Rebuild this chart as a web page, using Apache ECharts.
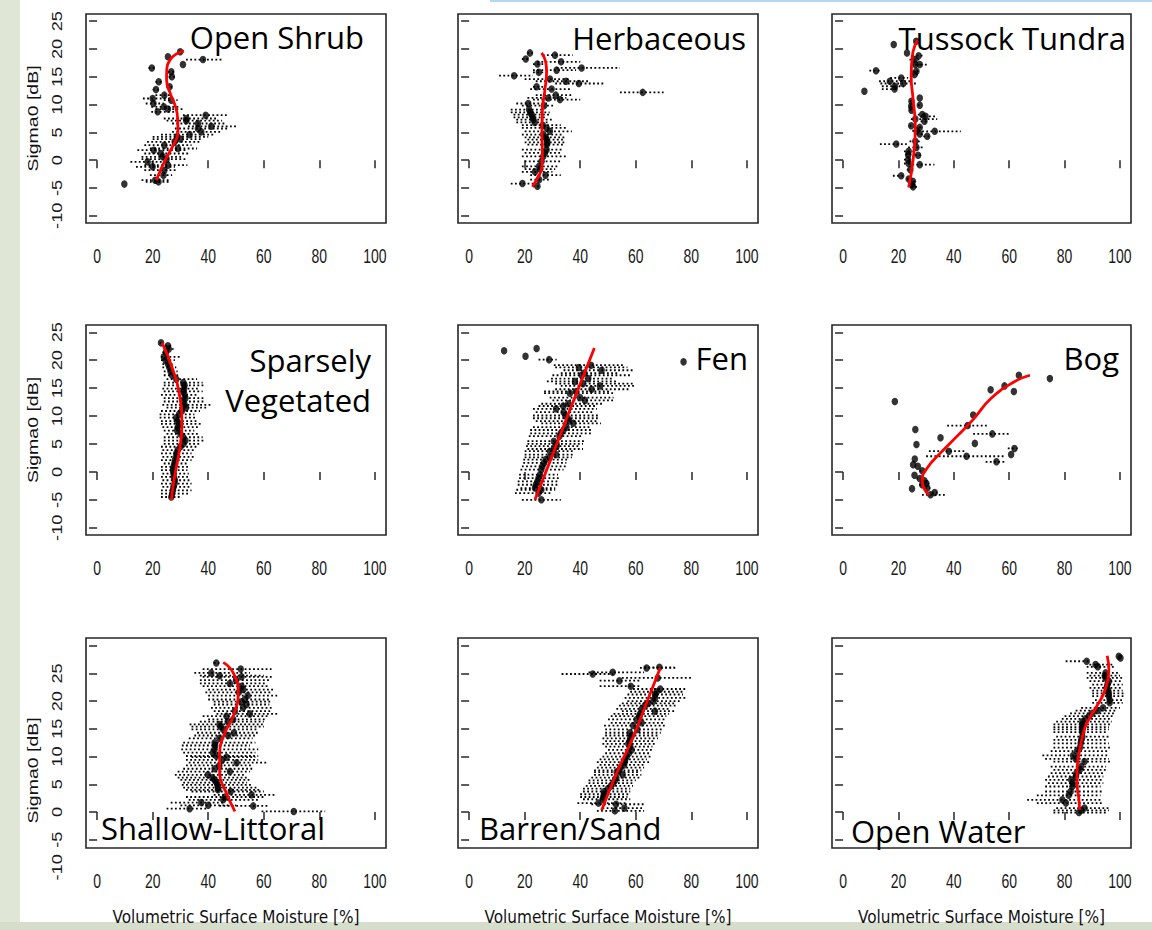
<!DOCTYPE html>
<html><head><meta charset="utf-8">
<script src="https://cdn.jsdelivr.net/npm/echarts@6/dist/echarts.min.js"></script>
<style>html,body{margin:0;padding:0;background:#fff}#c{width:1152px;height:930px}</style>
</head><body><div id="c"></div>
<script>
// ---------- tick / label values ----------
const xTicks = [0, 20, 40, 60, 80, 100];
const yTicksUpper = [-10, -5, 0, 5, 10, 15, 20, 25];
const yTicksLower = [-5, 0, 5, 10, 15, 20, 25, 30];
const yLabelsUpper = [-10, -5, 0, 5, 10, 15, 20, 25];
const yLabelsLower = [-10, -5, 0, 5, 10, 15, 20, 25];

const panelNames = ['Open Shrub', 'Herbaceous', 'Tussock Tundra', 'Sparsely\nVegetated', 'Fen', 'Bog',
  'Shallow-Littoral', 'Barren/Sand', 'Open Water'];
const xTitle = 'Volumetric Surface Moisture [%]';
const yTitle = 'Sigma0 [dB]';

// ---------- data: [moisture, sigma0, errLow, errHigh] ----------
const shrubPts = [
[29.9,19.5,29.9,29.9],[25.5,18.6,25.5,25.5],[38.1,18.1,32,45.4],[30.9,17.2,30.9,30.9],[19.7,16.6,18.5,21],
[26.7,15.9,25.5,28],[26.9,15.0,25.8,28],[22.2,14.1,21,23.5],[26.1,13.2,25,27],[21.2,12.7,20,22.5],
[24.2,11.7,21,27],[20.0,11.1,16.5,26],[26.7,10.8,24,29],[20.3,10.2,17.5,24],[24.0,9.6,19.5,30],
[25.5,9.2,21,31.5],[21.8,8.7,19.5,28],[39.1,8.1,30.9,47.2],[32.1,7.5,24,43],[32.1,7.1,25,45],
[36.3,6.6,27,46],[41.1,6.1,32.7,50.2],[36.3,5.7,28,47],[37.5,5.1,27,45],[33.3,4.6,23,42],
[28.8,4.2,20,40],[30.0,3.8,20,38],[27.9,3.3,18,37],[24.2,2.7,17,34],[29.1,2.1,19,36],
[20.4,1.8,14.5,32.6],[23.0,1.2,17,33],[23.6,0.6,16,31],[25.0,0.2,16,32],[18.2,-0.3,12,26],
[25.5,-0.9,17,32.5],[20.0,-1.2,14,28],[24.2,-1.8,17,29],[23.9,-2.7,19,27],[20.9,-3.6,16,26],
[22.1,-3.9,17.5,26],[9.8,-4.3,9.8,9.8]];
const shrubFit = [[21.3,-3.6],[24.5,0],[27.5,2.8],[29.1,5],[29.0,7.5],[28.3,9.5],[26.5,11.8],[25,14.5],[25.1,16.5],[26.5,18.2],[28.5,19.1],[31.3,19.6]];

const herbPts = [
[21.9,19.3,21,23],[30.9,18.9,26.5,37.3],[20.4,18.2,19,22],[33.1,17.7,24.5,40],[24.6,17.3,23,27],
[40.5,16.6,31.5,54.3],[31.5,16.2,23,38.5],[25.1,15.8,23,28],[16.2,15.2,10.8,23],[29.1,14.6,20,36],
[34.9,14.2,24,43],[39.5,13.8,31,48.5],[24.3,13.2,23,27],[29.7,12.8,22,37],[62.5,12.2,54.3,70],
[31.2,11.7,24,37],[28.5,11.2,21,35],[32.7,10.9,23,40],[21.3,10.2,17,28],[27.0,9.8,19,31],
[21.6,9.1,15,27],[22.0,8.6,15,29],[22.5,8.2,16,29],[22.8,7.7,16,28],[23.1,7.3,17,30],
[23.6,6.8,17,29],[26.5,6.3,19,33],[27.9,5.8,19,35],[29.1,5.2,20,37],[26.7,4.6,19,34],
[27.6,4.1,20,35],[27.9,3.7,21,34],[28.2,3.2,20,35],[27.9,2.8,21,34],[27.9,1.9,19,34],
[27.3,1.3,20,33],[26.7,0.7,19,35],[26.1,-0.2,20,33],[25.2,-1.1,19,32],[25.6,-1.6,20,31],
[23.7,-2.1,19,30],[27.5,-2.7,22,33],[25.2,-3.5,22,29],[19.2,-4.2,15,23],[24.6,-4.7,23,26]];
const herbFit = [[22.8,-4.8],[24.8,-3],[26.1,-1.5],[26.4,0.7],[26.2,4.9],[26.4,9.1],[27.3,12.7],[27.9,16],[27.5,17.8],[26.1,19.3]];

const tussPts = [
[18.3,20.8,18.3,18.3],[26.4,21.4,26.4,26.4],[23.1,19.3,23.1,23.1],[27.3,18.8,25,29.5],[25.9,18.1,24,27.5],
[26.1,17.2,24.5,28],[27.7,17.2,25,30.5],[26.5,16.0,25,28],[25.8,15.4,25,27],[11.9,16.1,9.5,13.5],
[21.0,14.8,17,23.5],[16.9,14.2,13,25],[21.7,13.8,13.5,26.5],[18.7,13.3,14,22],[18.6,12.8,14,20],
[7.7,12.4,7.7,7.7],[27.7,11.2,27.7,27.7],[24.7,10.6,24,25.5],[27.7,9.9,27,28.5],[24.6,9.7,24,25],
[24.7,9.0,24,25.5],[28.6,8.2,27,30],[29.8,7.9,28,33.5],[26.1,7.4,24.5,34],[29.4,7.0,28,31],
[24.6,6.2,24,25.5],[27.7,5.9,26,29],[26.7,5.3,25,28],[33.1,5.2,25.5,42.5],[27.7,4.7,26.5,29],
[30.4,4.3,29,31.5],[26.1,3.4,24,28],[19.2,2.9,13.3,23],[26.5,2.3,23.5,29],[23.7,1.6,22,25.5],
[23.5,1.0,22.5,25],[27.1,0.9,26,28],[23.5,0.1,22,25],[23.7,-0.6,22,25],[27.7,-0.8,25,33],
[24.3,-1.7,23,26],[21.0,-2.8,18,22.5],[23.7,-3.4,23,25],[25.2,-3.8,24,27],[24.9,-4.4,24,26],[25.3,-4.8,24.5,27]];
const tussFit = [[23.7,-4.9],[25.3,0.1],[26.1,6.1],[25.3,10.9],[24.6,15.1],[25,18.7],[26.1,20.8],[27.1,21.5]];

const sparsePts = [
[23.0,23.1,22.5,24],[25.5,22.6,24.5,27],[25.8,22.0,24,27.5],[24.8,21.4,23.5,26],[24.0,20.6,23,30],
[24.6,20.0,23,28],[25.5,19.3,23.5,28],[26.0,18.7,23.5,28.5],[26.4,18.0,24,29],[27.0,17.3,24,30],
[28.5,16.6,25,36],[31.0,16.0,24,38],[31.5,15.5,24,38.5],[31.3,14.9,23.5,37],[31.0,14.4,24,38],
[31.5,13.8,23,36],[31.8,13.2,24,38.5],[31.0,12.6,24,39],[31.5,12.0,23.5,41],[32.0,11.5,25,40],
[30.5,10.9,23,37],[29.5,10.3,22.5,35],[28.5,9.7,22.5,36],[28.8,9.1,23,36.5],[29.5,8.6,23,38],
[29.0,8.0,23.5,37],[28.8,7.4,24,35],[30.0,6.8,25,37],[31.0,6.2,24,38],[31.8,5.6,24,38.5],
[31.0,5.0,24,37],[30.0,4.5,23,36],[29.0,3.9,23.5,35],[28.5,3.3,23,34],[28.5,2.7,23.5,35],
[28.0,2.1,23,34],[27.8,1.5,24,33],[27.5,0.9,23,33],[27.3,0.3,23,32.5],[27.5,-0.3,23.5,33],
[27.6,-0.9,23,33],[28.0,-1.5,23.5,33.5],[27.9,-2.1,23,34],[27.5,-2.7,23.5,34],[27.3,-3.3,23,34],
[27.0,-3.9,23,33],[26.7,-4.5,23,30]];
const sparseFit = [[23.4,23.1],[26.7,19.1],[29.7,13.7],[30.5,8.3],[29.7,4.1],[27.9,-0.8],[26.7,-5]];

const fenPts = [
[12.6,21.7,12.6,12.6],[24.3,22.1,24.3,24.3],[20.3,20.7,20.3,20.3],[28.8,20.1,25,31.5],[77.2,19.7,77.2,77.2],
[43.9,19.1,30.5,55.5],[39.5,18.7,31,57],[47.7,18.2,34,59],[41.5,17.7,33,54],[40.5,17.3,30,58],
[42.9,16.7,29.5,52],[38.1,16.2,28,53],[41.0,15.8,31,59],[47.1,15.4,33,59.5],[44.1,14.8,31,58],
[38.5,14.4,27,51],[36.3,14.1,27,52],[39.9,13.3,29,52],[41.7,12.8,30,52],[35.7,12.2,26,48],
[33.9,11.8,25,46],[31.3,11.3,23,46],[34.0,10.7,24,45],[34.7,10.1,23,47],[35.5,9.6,23,47],
[36.0,9.1,24,46],[37.5,8.7,26,47.5],[35.1,8.0,23,44],[34.0,7.5,22,44],[33.0,6.9,22,44],
[32.5,6.4,21.5,41],[30.5,5.5,21,42],[31.5,5.0,21,41],[31.5,4.6,20.5,40],[30.5,4.1,21,41],
[29.1,3.7,20,38],[31.3,3.1,20,38],[29.0,2.6,20,37],[27.6,2.2,19.5,36],[27.0,1.6,19.5,35],
[26.4,1.0,19,35],[26.0,0.4,18.5,34],[25.5,-0.5,18,32],[25.0,-1.1,18,33],[24.6,-1.7,17.5,32],
[24.0,-2.3,17.5,32],[23.7,-2.9,18.5,31],[26.0,-3.2,17,31],[25.0,-3.8,16.5,30],[26.0,-5.0,19,33]];
const fenFit = [[23.7,-5],[30,3],[37,12],[45.1,22.2]];

const bogPts = [
[18.7,12.6,18.7,18.7],[63.5,17.3,63.5,63.5],[74.7,16.7,74.7,74.7],[53.3,14.7,53.3,53.3],[58.3,15.4,58.3,58.3],
[61.7,14.4,61.7,61.7],[47.0,10.2,47,47],[45.0,8.3,37.6,52.7],[53.9,6.8,47,60.5],[26.1,7.6,26.1,26.1],
[26.5,4.9,26.5,26.5],[35.2,6.1,35.2,35.2],[47.6,5.1,47.6,47.6],[38.2,3.7,31,44.5],[61.9,4.2,59.5,63],
[44.6,2.8,30,58.5],[60.7,3.1,60.7,60.7],[55.4,1.8,51.5,58.7],[25.9,2.3,25.9,25.9],[25.3,1.3,25.3,25.3],
[27.0,1.0,27,27],[28.6,0.2,27.5,29],[25.8,-0.6,25.8,25.8],[27.7,-1.2,26.5,29],[29.4,-1.6,28.5,30.5],
[30.1,-2.1,29,31],[28.6,-2.3,27.5,29.5],[30.4,-2.9,29.5,31.5],[24.9,-3.0,24.9,24.9],[31.6,-4.1,28.5,37.6],
[33.1,-3.7,32,34]];
const bogFit = [[31,-4.1],[29.2,-2.9],[28.6,-1.4],[30.4,0.7],[35.2,3.4],[41.2,6.4],[47.2,9.5],[53.3,13.1],[61.7,16.1],[67.5,17.3]];

const shallowPts = [
[42.9,26.9,42,44],[51.7,25.8,38,62.8],[41.1,25.1,35,55],[44.1,24.6,37,60],[52.0,24.4,38,63],
[50.0,23.8,37,62],[47.8,23.2,37,61],[52.0,22.7,38,62],[52.6,22.1,40,64],[51.0,21.6,39,63],
[54.2,21.0,40,65],[53.2,20.3,40,62],[52.0,19.9,42,63],[53.8,19.4,42,62],[52.5,18.8,41,63],
[49.6,18.2,42,63],[55.0,17.7,43,65],[46.6,17.3,38,62],[49.0,16.7,40,61],[47.0,16.3,37,60],
[44.1,15.8,33.3,60.4],[44.5,15.4,34,60],[45.4,14.9,34,58],[49.3,14.3,36,58],[47.2,13.8,35,57],
[44.0,13.3,33,56],[42.3,12.5,31,57],[42.5,12.0,30.5,55],[42.3,11.3,30.3,58],[41.7,10.7,31,57],
[42.9,10.1,32,58],[46.6,9.9,34,57],[45.0,9.4,32,58],[50.2,8.9,33,61],[44.0,8.4,32,56],
[42.3,7.8,31,56],[47.8,7.3,29,55],[39.9,6.7,28,53],[41.5,6.2,29,54],[42.3,5.8,30,55],
[43.0,5.3,31,54],[43.3,4.9,30.5,56],[43.5,4.4,31,58],[43.5,4.0,32,59],[48.1,3.7,34,60],
[55.6,3.1,42,64.7],[46.0,2.7,32,60],[45.4,2.2,33,58],[37.5,1.7,26.5,46],[40.0,1.2,30,50],
[56.2,1.1,44,62],[33.3,0.6,25,40],[70.8,0.1,59.2,82.1]];
const shallowFit = [[45.4,27],[49,25.1],[50.8,21.5],[49,17.3],[46,14.3],[44.1,10.7],[44.1,7],[46,4],[49.6,0.1]];

const barrenPts = [
[63.9,26.0,61.5,74.2],[68.5,26.1,63,74],[44.5,24.9,33.3,51.9],[51.7,25.2,43,63],[67.9,24.2,55,80],
[54.1,23.7,47,62],[58.2,22.7,47,62],[68.8,22.2,59,78],[67.5,21.7,58,77],[67.0,21.2,57,77],
[66.9,20.6,56,78],[66.3,20.0,57,76],[64.5,19.6,55,74],[63.3,19.2,54,75],[62.1,18.6,53,72],
[66.9,18.2,55,74],[61.5,17.7,52,72],[61.3,17.3,51,71],[60.3,16.7,50,71],[62.1,16.1,51,70],
[59.1,15.6,48.6,71],[60.6,14.9,49,70],[57.9,14.3,49,69],[58.5,13.8,49,68],[58.0,13.3,48,68],
[57.8,12.8,49,67],[57.3,12.3,48,67],[58.0,11.8,49,66],[58.5,11.2,50,66],[57.5,10.6,49,65],
[56.7,10.0,48,66],[56.2,9.5,47,64],[56.0,9.0,46,65],[55.8,8.5,47,63],[54.5,8.0,46,63],
[54.0,7.5,45,62],[53.1,7.2,45,61],[55.3,6.7,45,62],[53.0,6.2,44,62],[52.5,5.7,43,60],
[51.9,5.2,43,59],[51.0,4.7,42,59],[50.0,4.2,41,58],[48.6,3.7,41,58],[48.5,3.2,40,58],
[48.3,2.7,40,57],[48.1,2.3,41,58],[46.6,1.6,39,57],[52.9,1.4,44,63],[55.9,0.7,48,63],[52.5,0.2,46,63]];
const barrenFit = [[47.7,0.3],[53.1,7],[59.1,13.6],[63.9,19.7],[68.8,26]];

const waterPts = [
[99.6,28.1,99.6,99.6],[100.2,27.8,100.2,100.2],[88.0,27.2,80.4,89.4],[91.2,26.6,89,98],[92.0,26.2,88,98],
[94.8,25.1,88,100],[94.5,24.6,89,100],[94.8,24.2,88,101],[96.0,23.6,89,101],[95.5,23.0,90,101],
[95.2,22.4,89,101],[95.8,21.9,90,101],[96.0,21.4,90,101.5],[96.0,20.9,90,101.5],[96.3,20.2,91,101.5],
[96.3,19.7,90,101],[93.9,18.8,86,100],[92.0,18.3,84,99],[90.0,17.8,82,98],[88.8,17.3,80,98],
[87.5,16.8,79,97],[86.4,16.3,77,97],[86.4,15.8,76,96.6],[86.4,15.3,76,96],[86.4,14.9,76,96],
[86.4,14.4,76,95],[86.4,13.6,77,96],[86.0,13.0,76,95],[85.8,12.4,76,96],[85.5,11.6,76,97],
[84.5,11.0,75,96],[83.1,10.2,72,96],[84.0,9.6,73,96],[87.2,9.1,76,97],[86.0,8.2,75,95],
[85.5,7.6,76,95],[84.3,7.0,75,94],[84.0,6.4,74,94],[82.4,5.8,73,94],[83.0,5.2,74,94],
[82.8,4.6,73,93],[82.2,3.7,73,94],[81.5,3.0,70,93],[79.2,2.2,66.5,93],[80.5,1.6,70,94],
[87.2,0.7,77,96],[86.0,0.3,76,96],[85.2,-0.1,76,95]];
const waterFit = [[95.4,28.2],[96,25.7],[95.4,23.3],[93.8,21],[91.5,19],[89.3,17.2],[87.6,15.5],[86.4,13.5],[85.6,11.5],[84.9,9.5],[84.5,7.5],[84.6,4.6],[85.2,2.2],[85.4,0.4]];

const panelPts = [shrubPts, herbPts, tussPts, sparsePts, fenPts, bogPts, shallowPts, barrenPts, waterPts];
const panelFits = [shrubFit, herbFit, tussFit, sparseFit, fenFit, bogFit, shallowFit, barrenFit, waterFit];

// ---------- layout ----------
const colLeft = [86, 458, 832], colWidth = [300, 300, 299];
const rowTop = [14, 325, 638], rowHeight = [209, 210, 210];
const yRangeUpper = [-11.3, 26.3], yRangeLower = [-6.5, 31.4];
const NARROW = "'Liberation Sans Narrow','Arial Narrow','DejaVu Sans Condensed',sans-serif";
const ARIAL_FONT = "14px 'Liberation Sans', Arial, sans-serif";
const YTITLE_FONT = "15px 'Liberation Sans', Arial, sans-serif";
const TITLE_FONT = "31px 'Open Sans', 'Noto Sans', sans-serif";
const AX = '#262626';
const LABEL_COLOR = '#1a1a1a';

const titleLayout = [
  {x: 364, y: 17, align: 'right'}, {x: 746, y: 18, align: 'right'}, {x: 1126, y: 18, align: 'right'},
  {x: 371, y: 340, align: 'right'}, {x: 748, y: 338, align: 'right'}, {x: 1119, y: 338, align: 'right'},
  {x: 101, y: 808, align: 'left'}, {x: 479, y: 808, align: 'left'}, {x: 851, y: 811, align: 'left'}
];

const grids = [], xAxes = [], yAxes = [], series = [];
for (let i = 0; i < 9; i++) {
  const r = Math.floor(i / 3), c = i % 3;
  const lower = r === 2;
  grids.push({left: colLeft[c], top: rowTop[r], width: colWidth[c], height: rowHeight[r],
    show: true, borderColor: AX, borderWidth: 1.6, backgroundColor: '#fff', containLabel: false});
  xAxes.push({gridIndex: i, type: 'value', min: -4, max: 104,
    axisLine: {show: false}, splitLine: {show: false},
    axisTick: {show: true, length: 8, customValues: xTicks, lineStyle: {color: AX, width: 1.5}},
    axisLabel: {show: false},
    name: lower ? xTitle : '', nameLocation: 'middle', nameGap: 60,
    nameTextStyle: {fontFamily: NARROW, fontSize: 17, color: '#111'}});
  yAxes.push({gridIndex: i, type: 'value',
    min: lower ? yRangeLower[0] : yRangeUpper[0], max: lower ? yRangeLower[1] : yRangeUpper[1],
    axisLine: {show: false}, splitLine: {show: false},
    axisTick: {show: true, length: 8, customValues: lower ? yTicksLower : yTicksUpper, lineStyle: {color: AX, width: 1.5}},
    axisLabel: {show: false}});
  series.push({type: 'custom', xAxisIndex: i, yAxisIndex: i, data: panelPts[i], silent: true, z: 2,
    encode: {x: [0, 2, 3], y: 1},
    renderItem: function (params, api) {
      const y = api.value(1), lo = api.value(2), hi = api.value(3);
      if (hi - lo < 0.3) return null;
      const p1 = api.coord([lo, y]), p2 = api.coord([hi, y]);
      return {type: 'line', shape: {x1: p1[0], y1: p1[1], x2: p2[0], y2: p2[1]},
        style: {stroke: '#000', lineWidth: 1.8, lineDash: [1.8, 2.4]}};
    }});
  series.push({type: 'scatter', xAxisIndex: i, yAxisIndex: i, data: panelPts[i].map(p => [p[0], p[1]]),
    symbol: 'circle', symbolSize: [6.5, 7.5], itemStyle: {color: '#000'}, z: 3, silent: true});
  series.push({type: 'line', xAxisIndex: i, yAxisIndex: i, data: panelFits[i], smooth: 0.5,
    showSymbol: false, lineStyle: {color: '#ff0000', width: 2.8}, z: 4, silent: true});
}

const chart = echarts.init(document.getElementById('c'), null, {renderer: 'svg'});
chart.setOption({
  animation: false,
  backgroundColor: '#fff',
  grid: grids, xAxis: xAxes, yAxis: yAxes, series: series
});

// ---------- text: titles, tick labels (positioned through the axis scales) ----------
const g = [
  {type: 'rect', z: -10, shape: {x: 0, y: 0, width: 20, height: 930}, style: {fill: '#dfe6d6'}},
  {type: 'rect', z: -10, shape: {x: 0, y: 922, width: 1152, height: 8}, style: {fill: '#d6ddca'}},
  {type: 'rect', z: -10, shape: {x: 490, y: 0, width: 662, height: 2}, style: {fill: '#b3d7f0'}}
];
for (let i = 0; i < 9; i++) {
  const r = Math.floor(i / 3), c = i % 3;
  const lower = r === 2;
  const tl = titleLayout[i];
  g.push({type: 'text', x: tl.x, y: tl.y, z: 10,
    style: {text: panelNames[i], font: TITLE_FONT, fill: '#000', align: tl.align, verticalAlign: 'top', lineHeight: 40}});
  const gridBottom = rowTop[r] + rowHeight[r];
  xTicks.forEach(v => {
    const px = chart.convertToPixel({xAxisIndex: i}, v);
    g.push({type: 'text', x: px, y: gridBottom + 33, scaleY: 1.45, z: 10,
      style: {text: String(v), font: ARIAL_FONT, fill: LABEL_COLOR, align: 'center', verticalAlign: 'middle'}});
  });
  if (c === 0) {
    const labels = lower ? yLabelsLower : yLabelsUpper;
    labels.forEach(v => {
      const py = chart.convertToPixel({yAxisIndex: i}, v);
      g.push({type: 'text', x: 57, y: py, rotation: Math.PI / 2, scaleX: 1.3, z: 10,
        style: {text: String(v), font: ARIAL_FONT, fill: LABEL_COLOR, align: 'center', verticalAlign: 'middle'}});
    });
    const mid = (labels[0] + labels[labels.length - 1]) / 2;
    const pm = chart.convertToPixel({yAxisIndex: i}, mid);
    g.push({type: 'text', x: 33, y: pm, rotation: Math.PI / 2, scaleX: 1.3, z: 10,
      style: {text: yTitle, font: YTITLE_FONT, fill: '#111', align: 'center', verticalAlign: 'middle'}});
  }
}
chart.setOption({graphic: g});
</script></body></html>
